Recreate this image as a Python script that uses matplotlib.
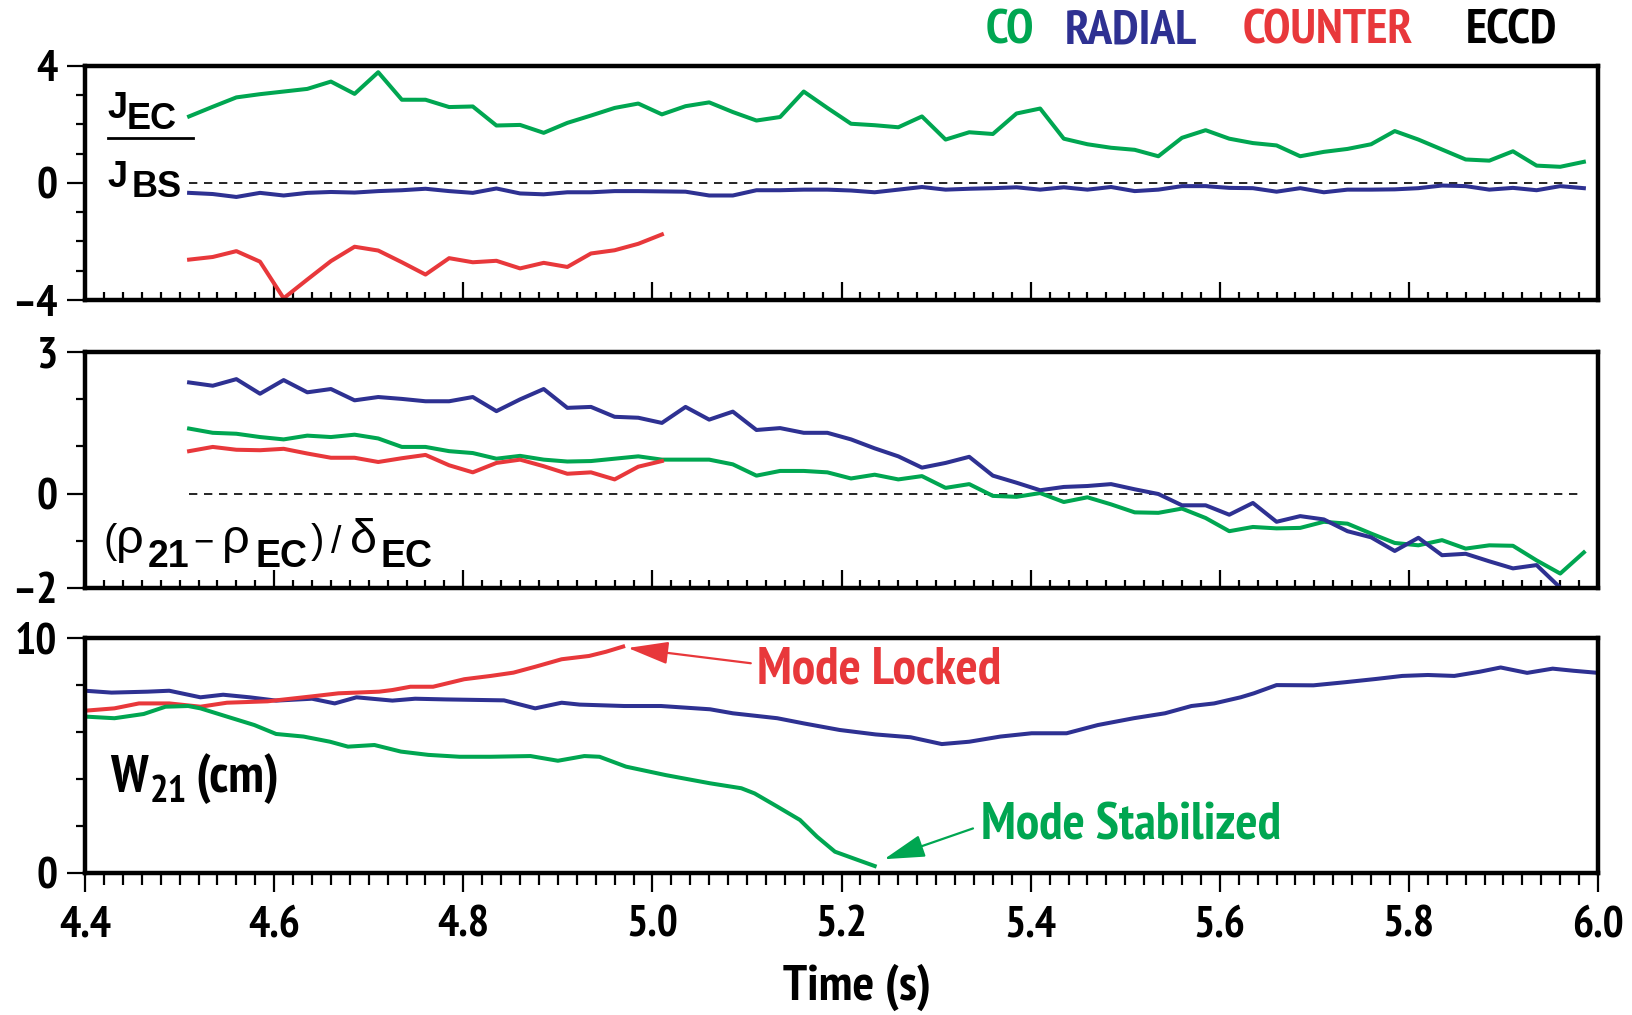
import numpy as np
import matplotlib
matplotlib.use("Agg")
import matplotlib.pyplot as plt
from matplotlib import font_manager as fm
from matplotlib.font_manager import FontProperties
from matplotlib.lines import Line2D
from matplotlib.ticker import MultipleLocator

# --- data -------------------------------------------------------------
# ECCD sample times (evenly spaced scans)
t_ec = np.linspace(4.51, 5.985, 60)

# J_EC / J_BS
jec_co = [2.27, 2.60, 2.92, 3.03, 3.12, 3.21, 3.46, 3.04, 3.78, 2.84,
          2.84, 2.59, 2.61, 1.96, 1.98, 1.71, 2.05, 2.30, 2.56, 2.71,
          2.34, 2.62, 2.75, 2.42, 2.13, 2.25, 3.12, 2.56, 2.02, 1.97,
          1.90, 2.27, 1.48, 1.73, 1.67, 2.37, 2.54, 1.51, 1.32, 1.20,
          1.13, 0.91, 1.54, 1.80, 1.51, 1.36, 1.28, 0.91, 1.06, 1.16,
          1.32, 1.77, 1.48, 1.14, 0.80, 0.76, 1.08, 0.59, 0.55, 0.72]
jec_radial = [-0.34, -0.38, -0.48, -0.34, -0.43, -0.34, -0.31, -0.33, -0.28, -0.25,
              -0.20, -0.28, -0.34, -0.19, -0.36, -0.39, -0.32, -0.32, -0.28, -0.28,
              -0.29, -0.30, -0.43, -0.43, -0.25, -0.25, -0.23, -0.23, -0.26, -0.32,
              -0.23, -0.14, -0.23, -0.20, -0.18, -0.15, -0.23, -0.15, -0.23, -0.14,
              -0.28, -0.23, -0.11, -0.11, -0.17, -0.18, -0.30, -0.18, -0.32, -0.23,
              -0.23, -0.22, -0.18, -0.09, -0.11, -0.23, -0.17, -0.25, -0.11, -0.18]
jec_counter = [-2.62, -2.53, -2.33, -2.69, -3.94, -3.30, -2.67, -2.18, -2.31, -2.71,
               -3.13, -2.57, -2.71, -2.66, -2.92, -2.73, -2.87, -2.41, -2.30, -2.08, -1.76]

# (rho_21 - rho_EC) / delta_EC
rho_co = [1.38, 1.29, 1.27, 1.20, 1.15, 1.23, 1.20, 1.25, 1.17, 0.99,
          0.99, 0.90, 0.86, 0.74, 0.80, 0.72, 0.68, 0.69, 0.74, 0.79,
          0.72, 0.72, 0.72, 0.62, 0.38, 0.48, 0.48, 0.45, 0.32, 0.40,
          0.30, 0.37, 0.12, 0.20, -0.05, -0.07, 0.01, -0.18, -0.08, -0.23,
          -0.40, -0.41, -0.32, -0.52, -0.80, -0.71, -0.74, -0.73, -0.60, -0.64,
          -0.85, -1.05, -1.10, -0.99, -1.17, -1.10, -1.11, -1.42, -1.70, -1.25]
rho_radial = [2.36, 2.29, 2.43, 2.12, 2.41, 2.15, 2.22, 1.98, 2.05, 2.01,
              1.96, 1.96, 2.05, 1.75, 2.00, 2.22, 1.82, 1.84, 1.63, 1.61,
              1.50, 1.84, 1.57, 1.74, 1.35, 1.39, 1.29, 1.29, 1.15, 0.96,
              0.79, 0.55, 0.65, 0.78, 0.38, 0.23, 0.07, 0.14, 0.16, 0.20,
              0.09, -0.01, -0.25, -0.25, -0.45, -0.20, -0.60, -0.48, -0.55, -0.80,
              -0.93, -1.22, -0.94, -1.31, -1.28, -1.44, -1.59, -1.52, -2.00]
rho_counter = [0.90, 0.99, 0.93, 0.92, 0.95, 0.85, 0.76, 0.76, 0.67, 0.75,
               0.82, 0.60, 0.45, 0.65, 0.72, 0.58, 0.42, 0.45, 0.30, 0.57, 0.69]

# W21 (cm)
w_t_radial = [4.400, 4.428, 4.466, 4.489, 4.522, 4.546, 4.574, 4.602, 4.640, 4.664,
              4.687, 4.725, 4.749, 4.782, 4.843, 4.876, 4.904, 4.923, 4.970, 5.009,
              5.061, 5.085, 5.132, 5.160, 5.198, 5.236, 5.273, 5.306, 5.335, 5.368,
              5.401, 5.438, 5.471, 5.509, 5.542, 5.570, 5.594, 5.622, 5.636, 5.660,
              5.699, 5.732, 5.765, 5.793, 5.820, 5.848, 5.875, 5.897, 5.925, 5.952,
              5.974, 6.000]
w_radial = [7.77, 7.69, 7.73, 7.77, 7.49, 7.60, 7.49, 7.35, 7.43, 7.23,
            7.49, 7.35, 7.43, 7.40, 7.36, 7.02, 7.26, 7.18, 7.12, 7.12,
            6.98, 6.81, 6.60, 6.38, 6.10, 5.91, 5.79, 5.50, 5.60, 5.82,
            5.96, 5.96, 6.31, 6.60, 6.81, 7.12, 7.23, 7.49, 7.66, 8.01,
            8.00, 8.13, 8.27, 8.40, 8.44, 8.40, 8.58, 8.76, 8.53, 8.71,
            8.62, 8.53]
w_t_counter = [4.400, 4.431, 4.457, 4.489, 4.522, 4.550, 4.593, 4.640, 4.668, 4.711,
               4.725, 4.744, 4.768, 4.801, 4.829, 4.853, 4.876, 4.904, 4.933, 4.951, 4.969]
w_counter = [6.92, 7.02, 7.23, 7.23, 7.09, 7.26, 7.32, 7.53, 7.66, 7.73,
             7.80, 7.94, 7.94, 8.26, 8.40, 8.54, 8.79, 9.11, 9.25, 9.43, 9.65]
w_t_co = [4.400, 4.431, 4.462, 4.485, 4.509, 4.522, 4.550, 4.579, 4.602, 4.631,
          4.659, 4.678, 4.706, 4.734, 4.763, 4.796, 4.829, 4.871, 4.900, 4.928,
          4.944, 4.972, 5.014, 5.061, 5.094, 5.108, 5.132, 5.156, 5.174, 5.193,
          5.217, 5.235]
w_co = [6.67, 6.60, 6.78, 7.09, 7.12, 7.02, 6.67, 6.31, 5.93, 5.82,
        5.60, 5.39, 5.46, 5.18, 5.04, 4.96, 4.96, 4.99, 4.79, 4.99,
        4.96, 4.54, 4.18, 3.83, 3.62, 3.40, 2.84, 2.27, 1.56, 0.92,
        0.57, 0.31]

x_ticks = [4.4, 4.6, 4.8, 5.0, 5.2, 5.4, 5.6, 5.8, 6.0]
x_ticklabels = ["4.4", "4.6", "4.8", "5.0", "5.2", "5.4", "5.6", "5.8", "6.0"]

GREEN = "#00a651"
BLUE = "#2e3192"
RED = "#e8383b"


# --- fonts: look for a narrow bold sans, else shrink Liberation Sans Bold --
def _weight(f):
    if isinstance(f.weight, int):
        return f.weight
    return fm.weight_dict.get(f.weight, 400)


cond = None
best = 99
for f in fm.fontManager.ttflist:
    fn = f.fname.lower()
    if f.style != "normal" or _weight(f) < 600 or "dejavu" in fn:
        continue
    if "narrow" in fn:
        rank = 0
    elif "condensed" in fn and "semi" not in fn and "extra" not in fn:
        rank = 1
    else:
        continue
    if rank < best:
        best, cond = rank, f

SF = 1.0 if cond is not None else 0.85
K = 1.08 if cond is not None else 1.0   # words a bit larger in the narrow face


def nfp(size):
    if cond is not None:
        return FontProperties(fname=cond.fname, size=size)
    return FontProperties(family=["Liberation Sans", "DejaVu Sans"],
                          weight="bold", size=size * SF)


def wfp(size, weight="bold"):
    return FontProperties(family=["Liberation Sans", "DejaVu Sans"],
                          weight=weight, size=size)


W, H = 1633, 1015
fig = plt.figure(figsize=(W / 100, H / 100), dpi=100)


def fx(px):
    return px / W


def fy(py):
    return 1 - py / H


ax1 = fig.add_axes([0.0521, 0.7044, 0.9265, 0.2308])
ax2 = fig.add_axes([0.0521, 0.4210, 0.9265, 0.2319])
ax3 = fig.add_axes([0.0521, 0.1396, 0.9265, 0.2315])

lw = 2.9
ax1.plot(t_ec, jec_co, color=GREEN, lw=lw)
ax1.plot(t_ec, jec_radial, color=BLUE, lw=lw)
ax1.plot(t_ec[:len(jec_counter)], jec_counter, color=RED, lw=lw)

ax2.plot(t_ec, rho_co, color=GREEN, lw=lw)
ax2.plot(t_ec[:len(rho_radial)], rho_radial, color=BLUE, lw=lw)
ax2.plot(t_ec[:len(rho_counter)], rho_counter, color=RED, lw=lw)

ax3.plot(w_t_radial, w_radial, color=BLUE, lw=lw)
ax3.plot(w_t_counter, w_counter, color=RED, lw=lw)
ax3.plot(w_t_co, w_co, color=GREEN, lw=lw)

for ax in (ax1, ax2):
    ax.hlines(0, t_ec[0], t_ec[-1], colors="black", lw=1.2,
              linestyles=(0, (5, 4)), zorder=1)

tick_fp = nfp(32)
ax1.set_ylim(-4, 4)
ax1.set_yticks([-4, 0, 4], labels=["\u20134", "0", "4"], fontproperties=tick_fp)
ax1.yaxis.set_minor_locator(MultipleLocator(1))
ax2.set_ylim(-2, 3)
ax2.set_yticks([-2, 0, 3], labels=["\u20132", "0", "3"], fontproperties=tick_fp)
ax2.yaxis.set_minor_locator(MultipleLocator(1))
ax3.set_ylim(0, 10)
ax3.set_yticks([0, 10], labels=["0", "10"], fontproperties=tick_fp)
ax3.yaxis.set_minor_locator(MultipleLocator(2))

for ax in (ax1, ax2, ax3):
    ax.set_xlim(4.4, 6.0)
    ax.set_xticks(x_ticks)
    ax.xaxis.set_minor_locator(MultipleLocator(0.02))
    for s in ax.spines.values():
        s.set_linewidth(3.2)
    ax.tick_params(axis="y", which="major", direction="out", length=13,
                   width=1.6, pad=7)
    ax.tick_params(axis="y", which="minor", direction="out", length=6.5, width=1.6)

for ax in (ax1, ax2):
    ax.tick_params(axis="x", which="major", direction="in", length=13, width=1.6,
                   labelbottom=False)
    ax.tick_params(axis="x", which="minor", direction="in", length=6, width=1.6)

ax3.set_xticklabels(x_ticklabels, fontproperties=tick_fp)
ax3.tick_params(axis="x", which="major", direction="out", length=14, width=1.6, pad=9)
ax3.tick_params(axis="x", which="minor", direction="out", length=8.5, width=1.6)

# legend words across the top
fig.text(fx(986), fy(43), "CO", color=GREEN, fontproperties=nfp(33 * K), va="baseline")
fig.text(fx(1065), fy(43), "RADIAL", color=BLUE, fontproperties=nfp(33 * K), va="baseline")
fig.text(fx(1243), fy(43), "COUNTER", color=RED, fontproperties=nfp(33 * K), va="baseline")
fig.text(fx(1466), fy(43), "ECCD", color="black", fontproperties=nfp(33 * K), va="baseline")

# J_EC / J_BS
fig.text(fx(107), fy(118), "J", fontproperties=wfp(26), va="baseline")
fig.text(fx(127), fy(129), "EC", fontproperties=wfp(26), va="baseline")
fig.add_artist(Line2D([fx(108), fx(193)], [fy(138), fy(138)], color="black", lw=2))
fig.text(fx(107), fy(187), "J", fontproperties=wfp(26), va="baseline")
fig.text(fx(132), fy(197), "BS", fontproperties=wfp(26), va="baseline")

# (rho21 - rhoEC) / deltaEC
main_base, sub_base = 553, 567
pieces = [
    (104, main_base, "(", "normal", 29),
    (116, main_base, "\u03c1", "normal", 35),
    (148, sub_base, "21", "bold", 27),
    (193, main_base, "\u2212", "normal", 25),
    (222, main_base, "\u03c1", "normal", 35),
    (256, sub_base, "EC", "bold", 27),
    (311, main_base, ")", "normal", 29),
    (331, main_base, "/", "normal", 27),
    (350, main_base, "\u03b4", "normal", 35),
    (381, sub_base, "EC", "bold", 27),
]
for px, py, s, wgt, size in pieces:
    fig.text(fx(px), fy(py), s, fontproperties=wfp(size, wgt), va="baseline")

# W21 (cm)
fig.text(fx(110), fy(792), "W", fontproperties=nfp(35 * K), va="baseline")
fig.text(fx(150), fy(802), "21", fontproperties=nfp(26 * K), va="baseline")
fig.text(fx(195), fy(792), "(cm)", fontproperties=nfp(36 * K), va="baseline")

# annotations
arrow_style = "-|>,head_length=0.9,head_width=0.25"
ax3.annotate("", xy=(4.974, 9.59), xytext=(5.104, 8.94),
             arrowprops=dict(arrowstyle=arrow_style, color=RED, lw=1.6,
                             mutation_scale=28, shrinkA=0, shrinkB=0))
fig.text(fx(757), fy(684), "Mode Locked", color=RED, fontproperties=nfp(35 * K),
         va="baseline")
ax3.annotate("", xy=(5.245, 0.6), xytext=(5.339, 1.91),
             arrowprops=dict(arrowstyle=arrow_style, color=GREEN, lw=1.6,
                             mutation_scale=28, shrinkA=0, shrinkB=0))
fig.text(fx(981), fy(840), "Mode Stabilized", color=GREEN, fontproperties=nfp(35 * K),
         va="baseline")

fig.text(fx(857), fy(1000), "Time (s)", fontproperties=nfp(34 * K), ha="center",
         va="baseline")

fig.savefig("out.png", dpi=100)
